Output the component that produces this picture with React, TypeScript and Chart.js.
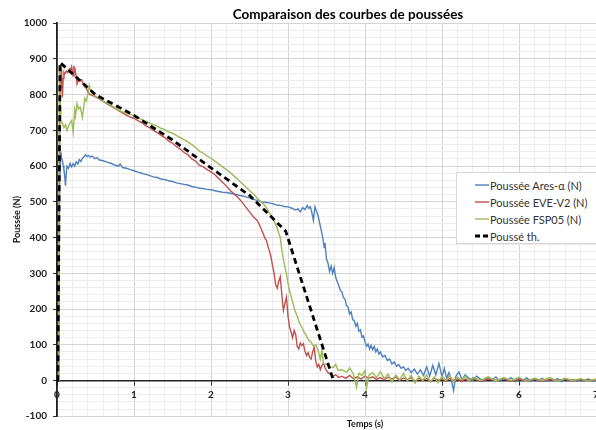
import React, { useEffect, useRef } from "react";
import { Chart, registerables } from "chart.js";

Chart.register(...registerables);

// ---- data (time s, thrust N) ----
const chartTitle = "Comparaison des courbes de poussées";
const xTitle = "Temps (s)";
const yTitle = "Poussée (N)";
const seriesNames = ["Poussée Ares-α (N)", "Poussée EVE-V2 (N)", "Poussée FSP05 (N)", "Poussé th."];
const seriesColors = ["#4F81BD", "#C0504D", "#9BBB59", "#000000"];

const aresData: [number, number][] = [
  [0, 0], [0.02, 0], [0.035, 560], [0.05, 640], [0.06, 622], [0.07, 616], [0.08, 602], [0.09, 590], [0.1, 572], [0.11, 545],
  [0.12, 578], [0.13, 600], [0.15, 594], [0.17, 608], [0.19, 598], [0.21, 607], [0.23, 600], [0.25, 612], [0.27, 606], [0.29, 618],
  [0.31, 613], [0.33, 622], [0.35, 626], [0.37, 632], [0.39, 627], [0.41, 630], [0.43, 625], [0.46, 628], [0.49, 621], [0.52, 624],
  [0.55, 617], [0.6, 615], [0.65, 611], [0.7, 608], [0.75, 603], [0.8, 600], [0.82, 606], [0.85, 596], [0.9, 594], [0.95, 590],
  [1.0, 587], [1.05, 583], [1.1, 580], [1.15, 577], [1.2, 574], [1.25, 570], [1.3, 568], [1.35, 564], [1.4, 562], [1.45, 559],
  [1.5, 557], [1.55, 553], [1.6, 551], [1.65, 549], [1.7, 547], [1.75, 543], [1.8, 541], [1.85, 538], [1.9, 537], [1.95, 535],
  [2.0, 534], [2.05, 531], [2.1, 529], [2.15, 527], [2.2, 526], [2.25, 524], [2.3, 522], [2.35, 519], [2.4, 517], [2.45, 514],
  [2.5, 511], [2.55, 507], [2.6, 504], [2.65, 500], [2.7, 499], [2.75, 497], [2.8, 495], [2.85, 491], [2.9, 490], [2.95, 487],
  [3.0, 486], [3.05, 482], [3.1, 477], [3.13, 480], [3.16, 472], [3.19, 484], [3.22, 478], [3.25, 490], [3.27, 482], [3.29, 486],
  [3.31, 470], [3.33, 448], [3.35, 486], [3.37, 474], [3.39, 462], [3.41, 442], [3.43, 422], [3.45, 401], [3.47, 372], [3.48, 385],
  [3.5, 340], [3.52, 328], [3.54, 305], [3.56, 320], [3.58, 300], [3.6, 316], [3.62, 288], [3.64, 276], [3.66, 266], [3.68, 252],
  [3.7, 248], [3.72, 232], [3.74, 228], [3.76, 210], [3.78, 205], [3.8, 186], [3.82, 192], [3.84, 170], [3.86, 168], [3.88, 152],
  [3.9, 160], [3.92, 138], [3.94, 142], [3.96, 122], [3.98, 125], [4.0, 108], [4.02, 96], [4.04, 102], [4.06, 88], [4.08, 98],
  [4.1, 86], [4.12, 95], [4.14, 80], [4.16, 88], [4.18, 74], [4.2, 80], [4.23, 66], [4.26, 70], [4.29, 56], [4.32, 60],
  [4.35, 46], [4.38, 52], [4.41, 40], [4.44, 44], [4.47, 34], [4.5, 38], [4.53, 28], [4.56, 34], [4.6, 22], [4.64, 32],
  [4.68, 18], [4.72, 30], [4.76, 14], [4.8, 38], [4.84, 12], [4.88, 42], [4.92, 16], [4.96, 48], [5.0, 10], [5.03, 34],
  [5.06, 6], [5.09, 22], [5.12, 2], [5.15, -28], [5.18, 12], [5.22, 24], [5.26, 2], [5.3, 16], [5.35, 6], [5.4, 0],
  [5.45, 12], [5.5, 4], [5.55, -2], [5.6, 9], [5.65, 2], [5.7, 10], [5.75, -3], [5.8, 6], [5.85, 1], [5.9, 8],
  [5.95, -4], [6.0, 5], [6.05, 0], [6.1, 7], [6.15, -3], [6.2, 4], [6.25, 0], [6.3, 6], [6.35, -2], [6.4, 3],
  [6.45, -1], [6.5, 5], [6.55, -3], [6.6, 4], [6.65, 0], [6.7, 3], [6.75, -2], [6.8, 2], [6.85, 0], [6.9, 4],
  [6.95, -2], [7.0, 1], [7.1, -1], [7.2, 2],
];

const eveData: [number, number][] = [
  [0, 0], [0.02, 0], [0.03, 500], [0.04, 820], [0.05, 860], [0.06, 868], [0.07, 793], [0.08, 845], [0.09, 862], [0.1, 858],
  [0.12, 866], [0.14, 862], [0.16, 872], [0.18, 870], [0.19, 878], [0.21, 852], [0.22, 878], [0.23, 876], [0.25, 850], [0.26, 830],
  [0.28, 842], [0.3, 838], [0.32, 842], [0.34, 828], [0.36, 822], [0.38, 818], [0.4, 808], [0.43, 800], [0.46, 798], [0.5, 794],
  [0.55, 788], [0.6, 781], [0.65, 774], [0.7, 768], [0.75, 762], [0.8, 755], [0.85, 749], [0.9, 743], [0.95, 737], [1.0, 734],
  [1.05, 727], [1.1, 722], [1.15, 713], [1.2, 708], [1.25, 700], [1.3, 694], [1.35, 686], [1.4, 680], [1.45, 670], [1.5, 664],
  [1.55, 655], [1.6, 648], [1.65, 638], [1.7, 632], [1.75, 620], [1.8, 614], [1.85, 602], [1.9, 598], [1.95, 590], [2.0, 584],
  [2.05, 576], [2.1, 565], [2.15, 555], [2.2, 544], [2.25, 532], [2.3, 522], [2.35, 512], [2.4, 500], [2.45, 486], [2.5, 472],
  [2.55, 458], [2.6, 448], [2.63, 436], [2.66, 420], [2.68, 410], [2.7, 398], [2.72, 392], [2.74, 375], [2.76, 362], [2.78, 345],
  [2.8, 320], [2.82, 300], [2.84, 268], [2.86, 258], [2.88, 278], [2.9, 290], [2.92, 240], [2.94, 196], [2.96, 215], [2.98, 233],
  [3.0, 180], [3.02, 150], [3.04, 135], [3.06, 120], [3.08, 140], [3.1, 128], [3.12, 95], [3.14, 88], [3.16, 105], [3.18, 98],
  [3.2, 103], [3.22, 82], [3.24, 70], [3.26, 78], [3.28, 65], [3.3, 60], [3.32, 80], [3.34, 92], [3.36, 55], [3.38, 38],
  [3.4, 45], [3.42, 30], [3.44, 42], [3.46, 48], [3.48, 36], [3.5, 28], [3.52, 22], [3.55, 18], [3.58, 12], [3.62, 16],
  [3.66, 8], [3.7, 12], [3.75, 6], [3.8, 14], [3.85, 5], [3.9, 10], [3.95, 4], [4.0, 12], [4.05, 6], [4.1, 10],
  [4.15, 3], [4.2, 8], [4.25, 2], [4.3, 9], [4.35, 4], [4.4, 10], [4.45, 0], [4.5, 7], [4.55, 2], [4.6, 8],
  [4.65, -2], [4.7, 6], [4.75, 0], [4.8, 5], [4.85, -3], [4.9, 6], [4.95, 1], [5.0, 4], [5.05, -2], [5.1, 6],
  [5.15, 0], [5.2, 5], [5.25, -3], [5.3, 4], [5.35, 0], [5.4, 6], [5.5, -2], [5.6, 4], [5.7, 0], [5.8, 5],
  [5.9, -2], [6.0, 3], [6.1, 0], [6.2, 4], [6.3, -2], [6.4, 3], [6.5, 0], [6.6, 4], [6.7, -1], [6.8, 3],
  [6.9, 0], [7.0, 2], [7.1, -1], [7.2, 1],
];

const fspData: [number, number][] = [
  [0, 0], [0.02, 0], [0.025, 600], [0.03, 880], [0.035, 820], [0.04, 765], [0.05, 728], [0.07, 720], [0.09, 708], [0.11, 716],
  [0.13, 700], [0.15, 712], [0.17, 722], [0.19, 728], [0.21, 695], [0.23, 756], [0.24, 740], [0.26, 775], [0.28, 760], [0.3, 765],
  [0.32, 748], [0.33, 737], [0.35, 770], [0.36, 790], [0.38, 782], [0.4, 800], [0.41, 812], [0.42, 826], [0.44, 808], [0.47, 800],
  [0.5, 796], [0.55, 790], [0.6, 782], [0.65, 776], [0.7, 770], [0.75, 764], [0.8, 757], [0.85, 752], [0.9, 748], [0.95, 745],
  [1.0, 742], [1.05, 736], [1.1, 731], [1.15, 726], [1.2, 721], [1.25, 716], [1.3, 712], [1.35, 706], [1.4, 702], [1.45, 696],
  [1.5, 692], [1.55, 686], [1.6, 680], [1.65, 674], [1.7, 668], [1.75, 660], [1.8, 652], [1.85, 642], [1.9, 636], [1.95, 628],
  [2.0, 622], [2.05, 614], [2.1, 606], [2.15, 598], [2.2, 590], [2.25, 582], [2.3, 572], [2.35, 562], [2.4, 552], [2.45, 542],
  [2.5, 532], [2.55, 522], [2.6, 510], [2.65, 500], [2.7, 490], [2.75, 472], [2.8, 455], [2.85, 432], [2.88, 412], [2.9, 400],
  [2.92, 364], [2.94, 340], [2.96, 316], [2.98, 299], [3.0, 272], [3.03, 243], [3.06, 220], [3.09, 196], [3.12, 180], [3.15, 160],
  [3.18, 149], [3.21, 135], [3.24, 125], [3.27, 112], [3.3, 108], [3.33, 95], [3.36, 100], [3.39, 84], [3.42, 60], [3.44, 85],
  [3.46, 47], [3.5, 44], [3.55, 38], [3.59, 37], [3.62, 45], [3.65, 28], [3.7, 30], [3.76, 23], [3.8, 35], [3.85, 18],
  [3.89, -19], [3.92, 20], [3.96, 14], [4.0, 28], [4.02, -20], [4.05, 15], [4.1, 22], [4.15, 8], [4.2, 25], [4.25, 5],
  [4.3, 18], [4.35, -5], [4.4, 15], [4.45, 2], [4.5, 20], [4.55, -2], [4.6, 14], [4.65, -8], [4.7, 12], [4.75, 0],
  [4.8, 16], [4.85, -4], [4.9, 10], [4.95, -6], [5.0, 12], [5.05, 0], [5.1, 14], [5.15, -5], [5.2, 10], [5.25, 2],
  [5.3, 12], [5.35, -3], [5.4, 9], [5.5, 0], [5.6, 10], [5.7, -2], [5.8, 8], [5.9, 0], [6.0, 9], [6.1, -3],
  [6.2, 6], [6.3, 0], [6.4, 8], [6.5, -2], [6.6, 6], [6.7, 0], [6.8, 5], [6.9, -2], [7.0, 4], [7.1, 0],
  [7.2, 2],
];

const theoData: [number, number][] = [
  [0, 0], [0.01, 0], [0.04, 890], [0.5, 800], [1.0, 742], [1.5, 673], [2.0, 595], [2.5, 518], [2.97, 418], [3.59, 0],
];

const xMin = 0;
const xMax = 8;
const xStep = 0.2;
const yMin = -100;
const yMax = 1000;
const yStep = 20;

const FONT = "Lato, 'Open Sans', 'DejaVu Sans', sans-serif";

const toPoints = (d: [number, number][]) => d.map(([x, y]) => ({ x, y }));
const isMajorX = (v: number) => Math.abs(v - Math.round(v)) < 1e-6;
const isMajorY = (v: number) => Math.abs(v % 100) < 1e-6;

export default function App() {
  const canvasRef = useRef<HTMLCanvasElement | null>(null);

  useEffect(() => {
    if (!canvasRef.current) return;
    const all = [aresData, eveData, fspData, theoData];
    const orders = [3, 2, 1, 0];
    const chart = new Chart(canvasRef.current, {
      type: "line",
      data: {
        datasets: all.map((d, i) => ({
          label: seriesNames[i],
          data: toPoints(d),
          borderColor: seriesColors[i],
          backgroundColor: seriesColors[i],
          borderWidth: i === 3 ? 2.8 : 1.4,
          borderDash: i === 3 ? [6, 4] : [],
          pointRadius: 0,
          tension: 0,
          fill: false,
          order: orders[i],
        })),
      },
      options: {
        animation: false,
        responsive: true,
        maintainAspectRatio: false,
        layout: { padding: 0 },
        plugins: {
          legend: { display: false },
          tooltip: { enabled: false },
          title: {
            display: true,
            text: chartTitle,
            color: "#000",
            font: { family: FONT, size: 13.5, weight: "bold" },
            padding: { top: 7, bottom: 0 },
          },
        },
        scales: {
          x: {
            type: "linear",
            min: xMin,
            max: xMax,
            position: { y: 0 } as any,
            ticks: {
              stepSize: xStep,
              autoSkip: false,
              maxRotation: 0,
              padding: 4,
              color: "#222",
              font: { family: FONT, size: 10, weight: "bold" },
              callback: (v: any) => (isMajorX(Number(v)) ? String(Math.round(Number(v))) : ""),
            },
            grid: {
              color: (ctx: any) => (isMajorX(ctx.tick.value) ? "#d4d4d4" : "#ececec"),
              tickColor: (ctx: any) => (isMajorX(ctx.tick.value) ? "#333" : "rgba(0,0,0,0)"),
              tickLength: 4,
              lineWidth: 1,
            },
            border: { display: true, color: "#222", width: 1.5 },
          },
          x2: {
            type: "linear",
            min: xMin,
            max: xMax,
            position: "bottom",
            ticks: { display: false },
            grid: { display: false, drawTicks: false },
            border: { display: false },
            title: {
              display: true,
              text: xTitle,
              color: "#111",
              font: { family: FONT, size: 9, weight: "bold" },
              padding: { top: 2, bottom: 1 },
            },
          },
          y: {
            type: "linear",
            min: yMin,
            max: yMax,
            position: "left",
            afterFit: (scale: any) => {
              scale.width = 57;
            },
            ticks: {
              stepSize: yStep,
              autoSkip: false,
              padding: 6,
              color: "#222",
              font: { family: FONT, size: 10, weight: "bold" },
              callback: (v: any) => (isMajorY(Number(v)) ? String(v) : ""),
            },
            grid: {
              color: (ctx: any) => (isMajorY(ctx.tick.value) ? "#d4d4d4" : "#ececec"),
              tickColor: (ctx: any) => (isMajorY(ctx.tick.value) ? "#333" : "rgba(0,0,0,0)"),
              tickLength: 4,
              lineWidth: 1,
            },
            border: { display: true, color: "#222", width: 1.8 },
            title: {
              display: true,
              text: yTitle,
              color: "#111",
              font: { family: FONT, size: 9, weight: "bold" },
              padding: { top: 12, bottom: 0 },
            },
          },
          yRightMargin: {
            type: "linear",
            min: yMin,
            max: yMax,
            position: "right",
            display: true,
            ticks: { display: false },
            grid: { display: false, drawTicks: false },
            border: { display: false },
            afterFit: (scale: any) => {
              scale.width = 23;
            },
          },
        },
      } as any,
    });
    return () => chart.destroy();
  }, []);

  const sample = (i: number) => (
    <svg width={14} height={6} style={{ display: "inline-block", verticalAlign: "middle", marginRight: 1 }}>
      <line
        x1={0}
        y1={3}
        x2={14}
        y2={3}
        stroke={seriesColors[i]}
        strokeWidth={i === 3 ? 2.8 : 1.4}
        strokeDasharray={i === 3 ? "5 3" : undefined}
      />
    </svg>
  );

  return (
    <div style={{ position: "fixed", left: 0, top: 0, width: 696, height: 430, background: "#fff" }}>
      <canvas ref={canvasRef} />
      <div
        style={{
          position: "absolute",
          left: 456,
          top: 172,
          width: 180,
          height: 72,
          background: "#fff",
          border: "1px solid #d6d6d6",
          boxSizing: "border-box",
          fontFamily: FONT,
          fontSize: 11,
          color: "#333",
          paddingTop: 2,
        }}
      >
        {seriesNames.map((n, i) => (
          <div key={n} style={{ height: 17, lineHeight: "17px", paddingLeft: 18, whiteSpace: "nowrap" }}>
            {sample(i)}
            <span style={{ verticalAlign: "middle" }}>{n}</span>
          </div>
        ))}
      </div>
    </div>
  );
}
